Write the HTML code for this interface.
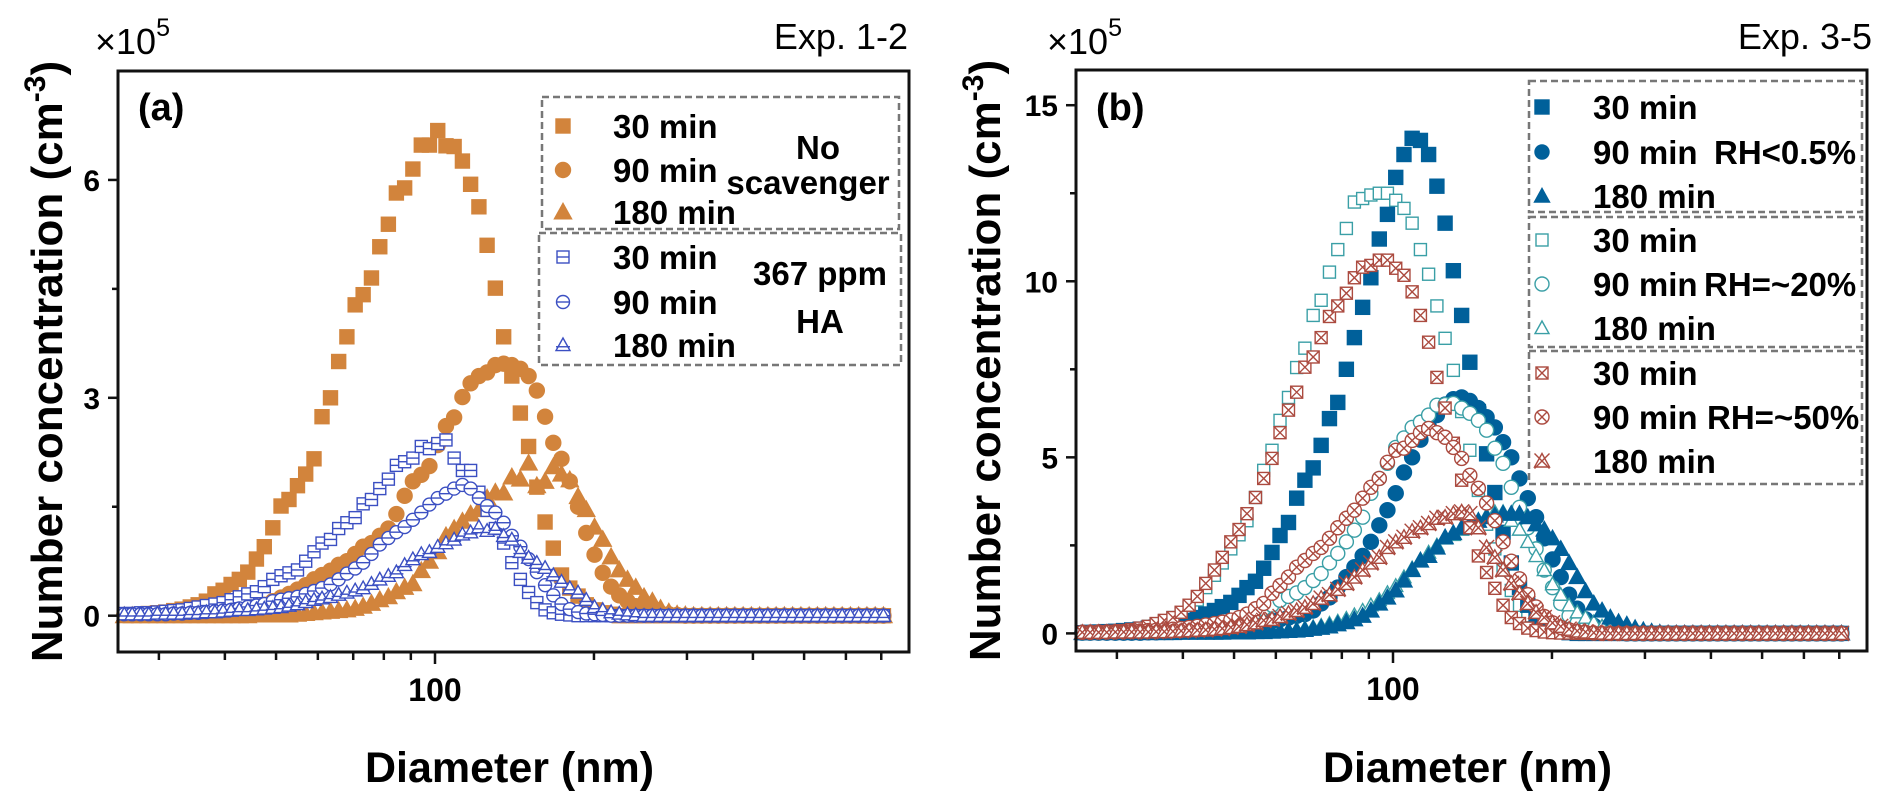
<!DOCTYPE html>
<html><head><meta charset="utf-8">
<style>
html,body{margin:0;padding:0;background:#fff;}
svg{display:block;font-family:"Liberation Sans",Arial,sans-serif;}
</style></head>
<body>
<svg id="fig" width="1892" height="810" viewBox="0 0 1892 810" xmlns="http://www.w3.org/2000/svg"></svg>
<script>
// ---------- DATA ----------
const diameters = [
25.8,26.7,27.7,28.7,29.8,30.9,32.0,33.2,34.4,35.6,
36.9,38.3,39.7,41.1,42.6,44.2,45.9,47.5,49.3,51.1,
52.9,54.9,56.9,59.0,61.1,63.4,65.7,68.1,70.6,73.1,
75.8,78.6,81.6,84.5,87.6,90.8,94.2,97.6,101.2,104.9,
108.7,112.7,116.8,121.1,125.5,130.1,134.9,139.8,145.1,150.4,
155.9,161.6,167.5,173.6,180.0,186.6,193.4,200.5,207.8,215.5,
223.3,231.5,240.0,248.8,258.0,267.4,277.2,287.4,297.9,308.8,
320.1,331.9,344.0,356.6,369.7,383.3,397.3,411.9,427.0,442.6,
458.8,475.6,493.1,511.1,529.9,549.3,569.4,590.3,611.9,634.3,
657.6,681.7,706.7];

const noScav30 = [
.01,.01,.02,.03,.04,.05,.07,.09,.12,.15,
.2,.3,.35,.43,.5,.6,.78,.95,1.21,1.51,
1.6,1.79,1.95,2.16,2.74,3.0,3.5,3.84,4.28,4.42,
4.65,5.08,5.39,5.82,5.89,6.15,6.48,6.48,6.68,6.47,
6.46,6.26,5.94,5.63,5.1,4.51,3.84,3.3,2.79,2.33,
1.77,1.29,.93,.56,.38,.27,.15,.08,.04,.02,
0,0,0,0,0,0,0,0,0,0, 0,0,0,0,0,0,0,0,0,0, 0,0,0,0,0,0,0,0,0,0, 0,0,0];
const noScav90 = [
.01,.01,.01,.01,.01,.01,.02,.02,.02,.03,
.03,.04,.05,.06,.08,.1,.12,.15,.2,.25,
.3,.36,.42,.5,.56,.62,.7,.75,.85,.95,
1.0,1.1,1.2,1.4,1.65,1.85,1.94,2.06,2.35,2.61,
2.73,3.01,3.2,3.3,3.35,3.45,3.47,3.45,3.4,3.3,
3.1,2.74,2.38,2.16,1.85,1.5,1.14,.84,.59,.4,
.28,.2,.13,.08,.05,.03,.02,.01,0,0,
0,0,0,0,0,0,0,0,0,0, 0,0,0,0,0,0,0,0,0,0, 0,0,0];
const noScav180 = [
0,0,0,0,0,0,0,0,0,0,
0,0,0,0,0,0,.01,.01,.01,.01,
.01,.02,.03,.04,.05,.06,.07,.08,.1,.13,
.17,.22,.26,.33,.39,.44,.62,.75,.88,1.1,
1.2,1.3,1.4,1.46,1.62,1.7,1.69,1.91,1.88,2.1,
1.79,1.85,2.05,1.95,1.87,1.64,1.46,1.22,1.05,.81,
.63,.5,.39,.26,.2,.1,.05,.02,.01,0,
0,0,0,0,0,0,0,0,0,0, 0,0,0,0,0,0,0,0,0,0, 0,0,0];
const ha30 = [
.03,.03,.04,.04,.05,.06,.07,.08,.1,.12,
.14,.16,.18,.22,.26,.3,.33,.4,.5,.55,
.59,.63,.75,.88,1.0,1.05,1.2,1.28,1.35,1.54,
1.6,1.75,1.88,2.07,2.12,2.17,2.33,2.3,2.37,2.42,
2.17,2.0,2.0,1.7,1.45,1.2,1.0,.73,.5,.32,
.18,.08,.04,.02,.01,0,0,0,0,0,
0,0,0,0,0,0,0,0,0,0, 0,0,0,0,0,0,0,0,0,0, 0,0,0,0,0,0,0,0,0,0, 0,0,0];
const ha90 = [
.02,.02,.02,.02,.02,.02,.03,.03,.04,.04,
.05,.06,.07,.08,.1,.12,.14,.16,.2,.22,
.24,.26,.3,.34,.38,.43,.5,.58,.65,.73,
.85,.98,1.07,1.15,1.22,1.32,1.42,1.53,1.62,1.68,
1.75,1.8,1.75,1.62,1.51,1.42,1.28,1.1,.95,.78,
.6,.42,.28,.16,.09,.05,.03,.02,.01,0,
0,0,0,0,0,0,0,0,0,0, 0,0,0,0,0,0,0,0,0,0, 0,0,0,0,0,0,0,0,0,0, 0,0,0];
const ha180 = [
.02,.02,.02,.02,.03,.03,.03,.03,.04,.04,
.05,.05,.06,.07,.08,.08,.09,.1,.11,.12,
.14,.16,.19,.22,.24,.26,.29,.32,.35,.38,
.44,.5,.55,.6,.7,.78,.85,.88,.95,1.0,
1.05,1.12,1.15,1.22,1.17,1.2,1.1,1.05,.88,.8,
.73,.66,.56,.47,.38,.32,.22,.12,.08,.05,
.03,.02,.01,0,0,0,0,0,0,0,
0,0,0,0,0,0,0,0,0,0, 0,0,0,0,0,0,0,0,0,0, 0,0,0];

const dry30 = [
.02,.03,.04,.05,.06,.08,.1,.12,.15,.18,
.22,.26,.3,.37,.45,.55,.65,.76,.88,1.08,
1.3,1.48,1.85,2.3,2.78,3.15,3.84,4.35,4.7,5.34,
6.1,6.56,7.5,8.4,9.26,10.1,11.2,11.9,12.95,13.6,
14.06,14.0,13.6,12.7,11.65,10.3,9.03,7.7,6.3,5.1,
4.0,2.87,2.0,1.3,.8,.45,.25,.12,.05,.02,
0,0,0,0,0,0,0,0,0,0, 0,0,0,0,0,0,0,0,0,0, 0,0,0,0,0,0,0,0,0,0, 0,0,0];
const dry90 = [
.02,.02,.02,.02,.02,.02,.02,.02,.03,.03,
.04,.04,.05,.06,.07,.08,.1,.12,.15,.17,
.2,.25,.3,.35,.4,.45,.5,.55,.65,.85,
1.02,1.3,1.6,1.88,2.2,2.6,3.07,3.5,3.98,4.57,
5.0,5.5,5.9,6.2,6.5,6.65,6.7,6.6,6.4,6.14,
5.85,5.43,5.0,4.4,3.84,3.3,2.7,2.1,1.6,1.1,
.7,.4,.22,.1,.05,.02,0,0,0,0,
0,0,0,0,0,0,0,0,0,0, 0,0,0,0,0,0,0,0,0,0, 0,0,0];
const dry180 = [
.01,.01,.01,.01,.01,.01,.01,.01,.01,.01,
.01,.01,.02,.02,.02,.02,.02,.02,.03,.03,
.03,.04,.04,.05,.06,.07,.08,.1,.13,.16,
.2,.26,.32,.4,.5,.65,.85,1.02,1.22,1.5,
1.8,2.07,2.2,2.44,2.73,2.85,3.0,3.1,3.2,3.3,
3.35,3.4,3.4,3.4,3.3,3.1,2.95,2.7,2.4,2.0,
1.6,1.2,.85,.65,.45,.32,.25,.15,.09,.05,
.02,0,0,0,0,0,0,0,0,0, 0,0,0,0,0,0,0,0,0,0, 0,0,0];
const rh20_30 = [
.02,.02,.03,.04,.06,.08,.11,.15,.2,.27,
.35,.45,.57,.72,.95,1.3,1.65,2.0,2.4,2.8,
3.2,3.86,4.63,5.2,6.05,6.7,7.55,8.1,9.03,9.46,
10.26,10.9,11.5,12.25,12.35,12.45,12.5,12.5,12.3,12.07,
11.65,10.9,10.2,9.3,8.38,7.47,6.3,5.2,4.06,3.1,
2.4,1.8,1.22,.8,.5,.3,.15,.07,.03,.01,
0,0,0,0,0,0,0,0,0,0, 0,0,0,0,0,0,0,0,0,0, 0,0,0,0,0,0,0,0,0,0, 0,0,0];
const rh20_90 = [
.02,.02,.02,.03,.03,.04,.04,.05,.06,.07,
.08,.1,.12,.14,.17,.2,.23,.28,.34,.4,
.5,.6,.7,.8,.94,1.05,1.15,1.3,1.5,1.7,
2.0,2.27,2.6,2.93,3.3,3.98,4.4,4.83,5.28,5.55,
5.85,6.0,6.2,6.48,6.5,6.53,6.4,6.25,6.05,5.77,
5.26,4.83,4.15,3.58,3.0,2.4,1.8,1.3,.85,.5,
.3,.15,.07,.03,.01,0,0,0,0,0,
0,0,0,0,0,0,0,0,0,0, 0,0,0,0,0,0,0,0,0,0, 0,0,0];
const rh20_180 = [
.02,.02,.02,.02,.02,.02,.02,.02,.02,.02,
.03,.03,.03,.03,.03,.04,.04,.04,.04,.04,
.05,.06,.07,.08,.09,.1,.12,.15,.18,.22,
.28,.34,.42,.52,.65,.8,.95,1.15,1.35,1.6,
1.85,2.1,2.3,2.5,2.7,2.8,2.95,3.1,3.2,3.35,
3.45,3.45,3.2,2.95,2.6,2.2,1.8,1.4,1.1,.8,
.6,.45,.32,.2,.12,.06,.03,.01,0,0,
0,0,0,0,0,0,0,0,0,0, 0,0,0,0,0,0,0,0,0,0, 0,0,0];
const rh50_30 = [
.03,.03,.04,.05,.06,.08,.11,.15,.2,.28,
.37,.45,.6,.8,1.05,1.42,1.8,2.16,2.6,2.95,
3.4,3.86,4.4,4.97,5.7,6.34,6.85,7.56,7.85,8.4,
9.0,9.3,9.66,10.1,10.4,10.45,10.6,10.6,10.37,10.17,
9.7,9.03,8.27,7.27,6.4,5.4,4.35,3.0,2.2,1.73,
1.28,.8,.45,.28,.15,.08,.04,.02,.01,.01,
0,0,0,0,0,0,0,0,0,0, 0,0,0,0,0,0,0,0,0,0, 0,0,0,0,0,0,0,0,0,0, 0,0,0];
const rh50_90 = [
.03,.03,.04,.04,.05,.05,.06,.07,.08,.09,
.1,.12,.14,.17,.2,.24,.28,.32,.38,.45,
.55,.7,.85,1.14,1.36,1.6,1.88,2.07,2.27,2.44,
2.7,3.0,3.27,3.5,3.84,4.15,4.4,4.86,5.2,5.26,
5.48,5.7,5.82,5.7,5.57,5.28,4.97,4.49,4.12,3.7,
3.2,2.6,2.05,1.55,1.1,.75,.48,.3,.17,.1,
.05,.03,.01,0,0,0,0,0,0,0,
0,0,0,0,0,0,0,0,0,0, 0,0,0,0,0,0,0,0,0,0, 0,0,0];
const rh50_180 = [
.03,.03,.03,.03,.04,.04,.04,.04,.04,.05,
.05,.06,.07,.08,.09,.1,.12,.14,.17,.2,
.25,.3,.37,.4,.48,.57,.65,.74,.85,1.0,
1.1,1.25,1.42,1.6,1.8,2.0,2.16,2.44,2.6,2.73,
2.9,3.0,3.12,3.27,3.3,3.4,3.45,3.4,3.0,2.44,
2.16,1.8,1.42,1.14,.85,.6,.45,.3,.2,.12,
.07,.04,.02,.01,0,0,0,0,0,0,
0,0,0,0,0,0,0,0,0,0, 0,0,0,0,0,0,0,0,0,0, 0,0,0];

const xMinorTicks = [30,40,50,60,70,80,90,200,300,400,500,600,700];
const xMajorTicks = [100];
const xTickLabels = ["100"];
const yTicksA = [0,3,6];
const yMinorA = [1.5,4.5];
const yTicksB = [0,5,10,15];
const yMinorB = [2.5,7.5,12.5];

// ---------- DRAWING ----------
const NS = "http://www.w3.org/2000/svg";
const svg = document.getElementById('fig');
function el(tag, attrs, parent) {
  const e = document.createElementNS(NS, tag);
  for (const k in attrs) e.setAttribute(k, attrs[k]);
  (parent || svg).appendChild(e);
  return e;
}
function makeX(left, right) {
  const lmin = Math.log10(25.1), lmax = Math.log10(790);
  return d => left + (Math.log10(d) - lmin) / (lmax - lmin) * (right - left);
}
function makeY(top, bottom, vmin, vmax) {
  return v => bottom - (v - vmin) / (vmax - vmin) * (bottom - top);
}

function marker(g, type, cx, cy, color, s) {
  const h = s / 2, sw = 1.4;
  const fill = type.endsWith('F') ? color : '#fff';
  const shape = type.slice(0, 2);
  const deco = type.slice(2);
  if (shape === 'sq') {
    el('rect', {x: cx - h, y: cy - h, width: s, height: s, fill: fill, stroke: color, 'stroke-width': sw}, g);
    if (deco === 'H') el('line', {x1: cx - h, y1: cy, x2: cx + h, y2: cy, stroke: color, 'stroke-width': sw}, g);
    if (deco === 'X') {
      el('line', {x1: cx - h, y1: cy - h, x2: cx + h, y2: cy + h, stroke: color, 'stroke-width': sw}, g);
      el('line', {x1: cx - h, y1: cy + h, x2: cx + h, y2: cy - h, stroke: color, 'stroke-width': sw}, g);
    }
  } else if (shape === 'ci') {
    el('circle', {cx: cx, cy: cy, r: h, fill: fill, stroke: color, 'stroke-width': sw}, g);
    if (deco === 'H') el('line', {x1: cx - h, y1: cy, x2: cx + h, y2: cy, stroke: color, 'stroke-width': sw}, g);
    if (deco === 'X') {
      const q = h * 0.707;
      el('line', {x1: cx - q, y1: cy - q, x2: cx + q, y2: cy + q, stroke: color, 'stroke-width': sw}, g);
      el('line', {x1: cx - q, y1: cy + q, x2: cx + q, y2: cy - q, stroke: color, 'stroke-width': sw}, g);
    }
  } else {
    const pts = `${cx},${cy - h} ${cx + h},${cy + h * 0.8} ${cx - h},${cy + h * 0.8}`;
    el('polygon', {points: pts, fill: fill, stroke: color, 'stroke-width': sw}, g);
    if (deco === 'H') el('line', {x1: cx - h, y1: cy + h * 0.25, x2: cx + h, y2: cy + h * 0.25, stroke: color, 'stroke-width': sw}, g);
    if (deco === 'X') {
      el('line', {x1: cx - h, y1: cy - h, x2: cx + h, y2: cy + h, stroke: color, 'stroke-width': sw}, g);
      el('line', {x1: cx - h, y1: cy + h, x2: cx + h, y2: cy - h, stroke: color, 'stroke-width': sw}, g);
    }
  }
}

function txt(x, y, str, size, weight, anchor, parent, name) {
  const t = el('text', {x: x, y: y, 'font-size': size, 'font-weight': weight, 'text-anchor': anchor || 'start', fill: '#000'}, parent);
  t.textContent = str;
  
  
  return t;
}

function drawPanel(cfg) {
  const g = el('g', {});
  
  
  const X = makeX(cfg.left, cfg.right);
  const Y = makeY(cfg.top, cfg.bottom, cfg.vmin, cfg.vmax);

  cfg.series.forEach(s => {
    const sg = el('g', {}, g);
    
    
    s.values.forEach((v, i) => {
      if (i < diameters.length) marker(sg, s.type, X(diameters[i]), Y(v), s.color, s.size);
    });
  });

  const fr = el('rect', {x: cfg.left, y: cfg.top, width: cfg.right - cfg.left, height: cfg.bottom - cfg.top, fill: 'none', stroke: '#111', 'stroke-width': 3}, g);
  
  

  const xa = el('g', {}, g);
  
  
  xMinorTicks.forEach(t => el('line', {x1: X(t), y1: cfg.bottom, x2: X(t), y2: cfg.bottom + 8, stroke: '#111', 'stroke-width': 2.5}, xa));
  xMajorTicks.forEach((t, i) => {
    el('line', {x1: X(t), y1: cfg.bottom, x2: X(t), y2: cfg.bottom + 12, stroke: '#111', 'stroke-width': 2.5}, xa);
    txt(X(t), cfg.bottom + 49, xTickLabels[i], 32, 'bold', 'middle', xa, 'x-tick-label');
  });
  txt((cfg.left + cfg.right) / 2 - 4, 782, 'Diameter (nm)', 43, 'bold', 'middle', xa, 'x-axis-title');

  const ya = el('g', {}, g);
  
  
  cfg.yMinor.forEach(t => el('line', {x1: cfg.left - 6, y1: Y(t), x2: cfg.left, y2: Y(t), stroke: '#111', 'stroke-width': 2.5}, ya));
  cfg.yTicks.forEach(t => {
    el('line', {x1: cfg.left - 10, y1: Y(t), x2: cfg.left, y2: Y(t), stroke: '#111', 'stroke-width': 2.5}, ya);
    txt(cfg.left - 18, Y(t) + 11, String(t), 30, 'bold', 'end', ya, 'y-tick-label');
  });
  const yt = el('text', {x: 0, y: 0, 'font-size': 44, 'font-weight': 'bold', 'text-anchor': 'middle', transform: `translate(${cfg.ytitleX},${(cfg.top + cfg.bottom) / 2}) rotate(-90)`}, ya);
  
  
  yt.innerHTML = 'Number concentration (cm<tspan font-size="30" dy="-17">-3</tspan><tspan dy="17">)</tspan>';
  const mult = el('text', {x: cfg.multX, y: 54, 'font-size': 36, 'font-weight': 'normal'}, ya);
  
  
  mult.innerHTML = '×10<tspan font-size="25" dy="-18">5</tspan>';

  txt(cfg.left + 20, 120, cfg.tag, 38, 'bold', 'start', g, 'panel-label');
  txt(cfg.expX, 49, cfg.exp, 36, 'normal', 'end', g, 'experiment-label');
  return g;
}

const orange = '#d2843c', blueO = '#3b4fc2', dblue = '#00609a', teal = '#3a9fa6', red = '#ab4a3f';

drawPanel({
  name: 'panel-a', tag: '(a)', exp: 'Exp. 1-2', expX: 908,
  left: 118, right: 909, top: 71, bottom: 652, vmin: -0.5, vmax: 7.5,
  yTicks: yTicksA, yMinor: yMinorA, ytitleX: 62, multX: 95,
  series: [
    {name: 'series-noscav-30min', values: noScav30, type: 'sqF', color: orange, size: 14},
    {name: 'series-noscav-90min', values: noScav90, type: 'ciF', color: orange, size: 15},
    {name: 'series-noscav-180min', values: noScav180, type: 'trF', color: orange, size: 17},
    {name: 'series-ha-30min', values: ha30, type: 'sqH', color: blueO, size: 12},
    {name: 'series-ha-90min', values: ha90, type: 'ciH', color: blueO, size: 13},
    {name: 'series-ha-180min', values: ha180, type: 'trH', color: blueO, size: 14}
  ]
});
drawPanel({
  name: 'panel-b', tag: '(b)', exp: 'Exp. 3-5', expX: 1872,
  left: 1076, right: 1867, top: 70, bottom: 651, vmin: -0.5, vmax: 16,
  yTicks: yTicksB, yMinor: yMinorB, ytitleX: 1000, multX: 1047,
  series: [
    {name: 'series-dry-90min', values: dry90, type: 'ciF', color: dblue, size: 15},
    {name: 'series-rh20-30min', values: rh20_30, type: 'sqO', color: teal, size: 12},
    {name: 'series-dry-30min', values: dry30, type: 'sqF', color: dblue, size: 14},
    {name: 'series-rh20-90min', values: rh20_90, type: 'ciO', color: teal, size: 14},
    {name: 'series-rh20-180min', values: rh20_180, type: 'trO', color: teal, size: 14},
    {name: 'series-dry-180min', values: dry180, type: 'trF', color: dblue, size: 16},
    {name: 'series-rh50-30min', values: rh50_30, type: 'sqX', color: red, size: 12},
    {name: 'series-rh50-90min', values: rh50_90, type: 'ciX', color: red, size: 14},
    {name: 'series-rh50-180min', values: rh50_180, type: 'trX', color: red, size: 15}
  ]
});

// ---------- LEGENDS ----------
function legendBox(x, y, w, h, name) {
  const r = el('rect', {x: x, y: y, width: w, height: h, fill: 'none', stroke: '#777', 'stroke-width': 2.5, 'stroke-dasharray': '7,4'});
  
  
}
function legendEntry(sx, tx, cy, type, color, size, label) {
  const g = el('g', {});
  
  
  marker(g, type, sx, cy, color, size);
  txt(tx, cy + 12, label, 33, 'bold', 'start', g, 'legend-label');
}
legendBox(542, 97, 357, 132, 'legend-box-no-scavenger');
legendBox(539, 233, 362, 132, 'legend-box-ha');
legendEntry(563, 613, 126, 'sqF', orange, 14, '30 min');
legendEntry(563, 613, 170, 'ciF', orange, 15, '90 min');
legendEntry(563, 613, 212, 'trF', orange, 17, '180 min');
legendEntry(563, 613, 257, 'sqH', blueO, 12, '30 min');
legendEntry(563, 613, 302, 'ciH', blueO, 13, '90 min');
legendEntry(563, 613, 345, 'trH', blueO, 14, '180 min');
txt(818, 159, 'No', 33, 'bold', 'middle', null, 'legend-group-label');
txt(808, 194, 'scavenger', 33, 'bold', 'middle', null, 'legend-group-label');
txt(820, 285, '367 ppm', 33, 'bold', 'middle', null, 'legend-group-label');
txt(820, 333, 'HA', 33, 'bold', 'middle', null, 'legend-group-label');
legendBox(1529, 81, 333, 131, 'legend-box-rh-dry');
legendBox(1529, 217, 333, 130, 'legend-box-rh20');
legendBox(1529, 351, 333, 133, 'legend-box-rh50');
legendEntry(1542, 1593, 107, 'sqF', dblue, 14, '30 min');
legendEntry(1542, 1593, 152, 'ciF', dblue, 14, '90 min');
legendEntry(1542, 1593, 196, 'trF', dblue, 15, '180 min');
legendEntry(1542, 1593, 240, 'sqO', teal, 12, '30 min');
legendEntry(1542, 1593, 284, 'ciO', teal, 14, '90 min');
legendEntry(1542, 1593, 328, 'trO', teal, 14, '180 min');
legendEntry(1542, 1593, 373, 'sqX', red, 12, '30 min');
legendEntry(1542, 1593, 417, 'ciX', red, 14, '90 min');
legendEntry(1542, 1593, 461, 'trX', red, 15, '180 min');
txt(1714, 164, 'RH<0.5%', 33, 'bold', 'start', null, 'legend-group-label');
txt(1704, 296, 'RH=~20%', 33, 'bold', 'start', null, 'legend-group-label');
txt(1707, 429, 'RH=~50%', 33, 'bold', 'start', null, 'legend-group-label');
</script>
</body></html>
